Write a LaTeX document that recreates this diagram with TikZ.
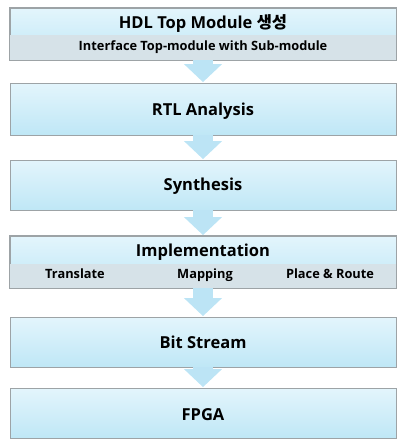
\documentclass[tikz,border=0pt]{standalone}
\usepackage{fontspec}
\setmainfont{Open Sans}
\newfontfamily\kr{Noto Sans CJK KR Bold}
\usetikzlibrary{arrows.meta,shadows}

\definecolor{boxtop}{HTML}{E3F5FC}
\definecolor{boxbot}{HTML}{BFE7F6}
\definecolor{boxline}{HTML}{9DA3A6}
\definecolor{bandgray}{HTML}{D6E2E8}
\definecolor{arrowblue}{HTML}{BCE4F5}

\tikzset{
	stage/.style={rectangle, draw=boxline, line width=0.8pt,
		top color=boxtop, bottom color=boxbot,
		minimum width=386pt, inner sep=0pt,
		drop shadow={shadow xshift=0.8pt, shadow yshift=-1.2pt, opacity=0.35}},
	band/.style={fill=bandgray},
	frame/.style={draw=boxline, line width=0.8pt},
	label/.style={anchor=mid, font=\bfseries\fontsize{16.5}{19}\selectfont},
	sublabel/.style={anchor=mid, font=\bfseries\fontsize{12.8}{14}\selectfont},
	flow/.style={line width=20pt, arrowblue,
		-{Triangle[width=37pt,length=18pt]}, shorten >=0.5pt}
}

\begin{document}
\begin{tikzpicture}[x=1pt,y=-1pt]
	
	\useasboundingbox (0,0) rectangle (397,439);
	
	% Boxes
	\node[stage, minimum height=52pt] (hdl) at (203,34) {};
	\node[stage, minimum height=52pt] (rtl) at (203,109) {};
	\node[stage, minimum height=50pt] (syn) at (203,185) {};
	\node[stage, minimum height=52pt] (impl) at (203,262) {};
	\node[stage, minimum height=50pt] (bit) at (203,342) {};
	\node[stage, minimum height=50pt] (fpga) at (203,413) {};
	
	% Gray bands, frame drawn again on top
	\fill[band] (hdl.west |- 0,35) rectangle (hdl.south east);
	\draw[frame] (hdl.north west) rectangle (hdl.south east);
	\fill[band] (impl.west |- 0,264) rectangle (impl.south east);
	\draw[frame] (impl.north west) rectangle (impl.south east);
	
	% Texts
	\node[label] (hdltxt) at (203,26) {HDL Top Module {\kr 생성}};
	\node[sublabel] (hdlsub) at (203,48) {Interface Top-module with Sub-module};
	\node[label] (rtltxt) at (203,113) {RTL Analysis};
	\node[label] (syntxt) at (203,188) {Synthesis};
	\node[label] (impltxt) at (203,253.5) {Implementation};
	\node[sublabel] (trans) at (75,276) {Translate};
	\node[sublabel] (map) at (205,276) {Mapping};
	\node[sublabel] (par) at (330,276) {Place \& Route};
	\node[label] (bittxt) at (203,345.5) {Bit Stream};
	\node[label] (fpgatxt) at (203,418) {FPGA};
	
	% Arrows
	\draw[flow] (hdl.south) -- (rtl.north);
	\draw[flow] (rtl.south) -- (syn.north);
	\draw[flow] (syn.south) -- (impl.north);
	\draw[flow] (impl.south) -- (bit.north);
	\draw[flow] (bit.south) -- (fpga.north);
	
\end{tikzpicture}
\end{document}
